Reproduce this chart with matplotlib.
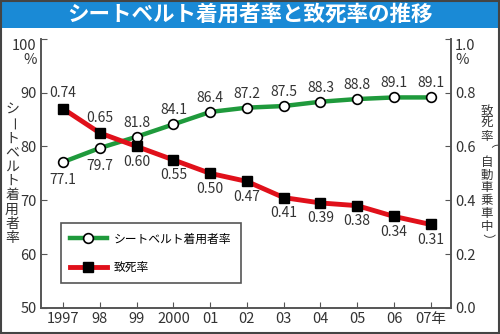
import matplotlib
matplotlib.use('Agg')
import matplotlib.pyplot as plt
from matplotlib.patches import Rectangle

# data
years = ['1997', '98', '99', '2000', '01', '02', '03', '04', '05', '06', '07年']
belt_rate = [77.1, 79.7, 81.8, 84.1, 86.4, 87.2, 87.5, 88.3, 88.8, 89.1, 89.1]
death_rate = [0.74, 0.65, 0.60, 0.55, 0.50, 0.47, 0.41, 0.39, 0.38, 0.34, 0.31]
left_ticks = [50, 60, 70, 80, 90, 100]
right_ticks = [0.0, 0.2, 0.4, 0.6, 0.8, 1.0]

title = 'シートベルト着用者率と致死率の推移'
left_label = 'シートベルト着用者率'
right_label = '致死率（自動車乗車中）'

cjk = ['Noto Sans CJK JP', 'DejaVu Sans']
plt.rcParams['font.family'] = cjk

green = '#1f9a3c'
red = '#e0101a'
grey = '#555555'
txt = '#333333'

fig = plt.figure(figsize=(5, 3.34), dpi=100)
ax = fig.add_axes([0.082, 0.078, 0.82, 0.806])
ax2 = ax.twinx()

x = list(range(len(years)))
ax.plot(x, belt_rate, '-o', color=green, lw=3.2, markersize=7,
        markerfacecolor='white', markeredgecolor='black', markeredgewidth=1.2,
        label='シートベルト着用者率', zorder=3)
ax2.plot(x, death_rate, '-s', color=red, lw=3.5, markersize=7,
         markerfacecolor='black', markeredgecolor='black',
         label='致死率', zorder=3)

# value labels
for i, v in enumerate(belt_rate):
    if i < 2:
        ax.annotate(f'{v:.1f}', (i, v), xytext=(0, -8), textcoords='offset points',
                    ha='center', va='top', fontsize=10, color=txt)
    else:
        ax.annotate(f'{v:.1f}', (i, v), xytext=(0, 5), textcoords='offset points',
                    ha='center', va='bottom', fontsize=10, color=txt)
for i, v in enumerate(death_rate):
    if i < 2:
        ax2.annotate(f'{v:.2f}', (i, v), xytext=(0, 6), textcoords='offset points',
                     ha='center', va='bottom', fontsize=10, color=txt)
    else:
        ax2.annotate(f'{v:.2f}', (i, v), xytext=(0, -6), textcoords='offset points',
                     ha='center', va='top', fontsize=10, color=txt)

ax.set_xlim(-0.6, 10.55)
ax.set_ylim(50, 100)
ax2.set_ylim(0, 1.0)
ax.set_xticks(x)
ax.set_xticklabels(years)
ax.set_yticks(left_ticks)
ax.set_yticklabels(['100\n%' if t == 100 else str(t) for t in left_ticks])
ax2.set_yticks(right_ticks)
ax2.set_yticklabels(['1.0\n%' if t == 1.0 else f'{t:.1f}' for t in right_ticks])
for lab in ax.get_yticklabels() + ax2.get_yticklabels():
    if '%' in lab.get_text():
        lab.set_va('top')
        lab.set_linespacing(1.0)

for a in (ax, ax2):
    a.spines['top'].set_visible(False)
    for s in a.spines.values():
        s.set_color(grey)
        s.set_linewidth(1.2)
    a.tick_params(colors=grey, labelcolor=txt, labelsize=10.5, direction='in',
                  length=4, pad=3)

h1, l1 = ax.get_legend_handles_labels()
h2, l2 = ax2.get_legend_handles_labels()
leg = ax2.legend(h1 + h2, l1 + l2, loc='lower left', bbox_to_anchor=(0.048, 0.092),
                 borderaxespad=0, fancybox=False, edgecolor=grey, framealpha=1,
                 handlelength=3.1, handletextpad=0.6, prop={'family': cjk, 'size': 8.5},
                 borderpad=0.8, labelspacing=1.3)
leg.get_frame().set_linewidth(1.2)

# vertical axis titles, one character at a time
def vertical(text, xc, ytop, step, size):
    for k, ch in enumerate(text):
        rot = -90 if ch in 'ー（）' else 0
        fig.text(xc, ytop - k * step, ch, ha='center', va='center', rotation=rot,
                 fontsize=size, color=txt, family=cjk)

vertical(left_label, 12 / 500, 1 - 110 / 334, 14.2 / 334, 10)
vertical(right_label, 487 / 500, 1 - 111 / 334, 12.8 / 334, 9)

# title bar and frame
fig.patches.append(Rectangle((0, 1 - 28 / 334), 1, 28 / 334, transform=fig.transFigure,
                             facecolor='#1a8ad6', edgecolor='none', zorder=0))
fig.text(0.5, 1 - 14 / 334, title, ha='center', va='center', color='white',
         fontsize=15.5, fontweight='bold', family=cjk)
fig.patches.append(Rectangle((0.002, 0.003), 0.996, 0.994, transform=fig.transFigure,
                             facecolor='none', edgecolor='#444444', lw=1.5, zorder=5))

fig.savefig('out.png', dpi=100)
